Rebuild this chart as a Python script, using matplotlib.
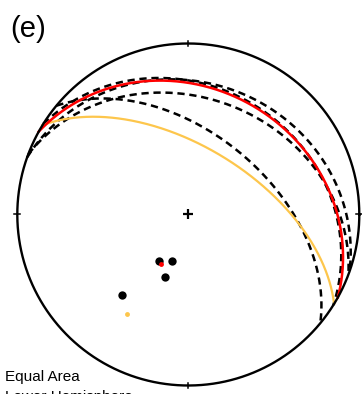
import numpy as np
import matplotlib
matplotlib.use("Agg")
import matplotlib.pyplot as plt

# ---- data (right-hand-rule strike / dip of planes, degrees) ----
dashed_strikes = [302.0, 289.5, 290.6, 309.5]
dashed_dips = [26.2, 23.7, 32.2, 51.1]
red_strike = [299.0]
red_dip = [27.0]
yellow_strike = [301.5]
yellow_dip = [57.7]

panel_label = "(e)"
proj_labels = ["Equal Area", "Lower Hemisphere"]


def plane_curve(strike, dip, n=400):
    s = np.radians(strike)
    d = np.radians(dip)
    dd = s + np.pi / 2
    S = np.array([np.sin(s), np.cos(s), 0.0])
    D = np.array([np.cos(d) * np.sin(dd), np.cos(d) * np.cos(dd), np.sin(d)])
    lam = np.linspace(0, np.pi, n)
    v = np.outer(np.cos(lam), S) + np.outer(np.sin(lam), D)
    k = 1.0 / np.sqrt(1.0 + np.clip(v[:, 2], 0, 1))
    return v[:, 0] * k, v[:, 1] * k


def pole_point(strike, dip):
    trend = np.radians(strike - 90.0)
    plunge = np.radians(90.0 - dip)
    e = np.cos(plunge) * np.sin(trend)
    nn = np.cos(plunge) * np.cos(trend)
    dn = np.sin(plunge)
    k = 1.0 / np.sqrt(1.0 + dn)
    return e * k, nn * k


W, H = 362, 394
cx, cy, R = 188.3, 214.5, 171.0
fig = plt.figure(figsize=(W / 100, H / 100), dpi=100)
ax = fig.add_axes([0, 0, 1, 1])
ax.set_xlim(-cx / R, (W - cx) / R)
ax.set_ylim((cy - H) / R, cy / R)
ax.set_aspect("auto")
ax.axis("off")

# primitive circle
t = np.linspace(0, 2 * np.pi, 720)
ax.plot(np.cos(t), np.sin(t), color="black", lw=1.7, zorder=5)
tk = 0.017
ax.plot([0, 0], [1 - tk, 1 + tk], color="black", lw=1.1, zorder=5)
ax.plot([0, 0], [-1 - tk, -1 + tk], color="black", lw=1.1, zorder=5)
ax.plot([1 - tk, 1 + tk], [0, 0], color="black", lw=1.1, zorder=5)
ax.plot([-1 - tk, -1 + tk], [0, 0], color="black", lw=1.1, zorder=5)
ax.plot([0], [0], marker="+", color="black", ms=6.5, mew=1.6, zorder=5)

# great circles
for s, d in zip(dashed_strikes, dashed_dips):
    x, y = plane_curve(s, d)
    ax.plot(x, y, color="black", lw=1.8, linestyle=(0, (2.9, 1.9)), zorder=2)
for s, d in zip(yellow_strike, yellow_dip):
    x, y = plane_curve(s, d)
    ax.plot(x, y, color="#FDC64C", lw=1.6, zorder=3)
for s, d in zip(red_strike, red_dip):
    x, y = plane_curve(s, d)
    ax.plot(x, y, color="#FF0000", lw=1.8, zorder=4)

# poles
for s, d in zip(dashed_strikes, dashed_dips):
    px, py = pole_point(s, d)
    ax.plot(px, py, "o", color="black", ms=6.0, mec="none", zorder=6)
for s, d in zip(red_strike, red_dip):
    px, py = pole_point(s, d)
    ax.plot(px, py, "o", color="#FF0000", ms=3.5, mec="none", zorder=7)
for s, d in zip(yellow_strike, yellow_dip):
    px, py = pole_point(s, d)
    ax.plot(px, py, "o", color="#FDC64C", ms=3.5, mec="none", zorder=7)

fig.text(10 / W, 1 - 37 / H, panel_label, fontsize=21, family="Liberation Sans",
         ha="left", va="baseline")
fig.text(5 / W, 1 - 381.5 / H, proj_labels[0], fontsize=11, family="Liberation Sans",
         ha="left", va="baseline")
fig.text(5 / W, 1 - 401 / H, proj_labels[1], fontsize=11, family="Liberation Sans",
         ha="left", va="baseline")

fig.savefig("out.png", dpi=100)
